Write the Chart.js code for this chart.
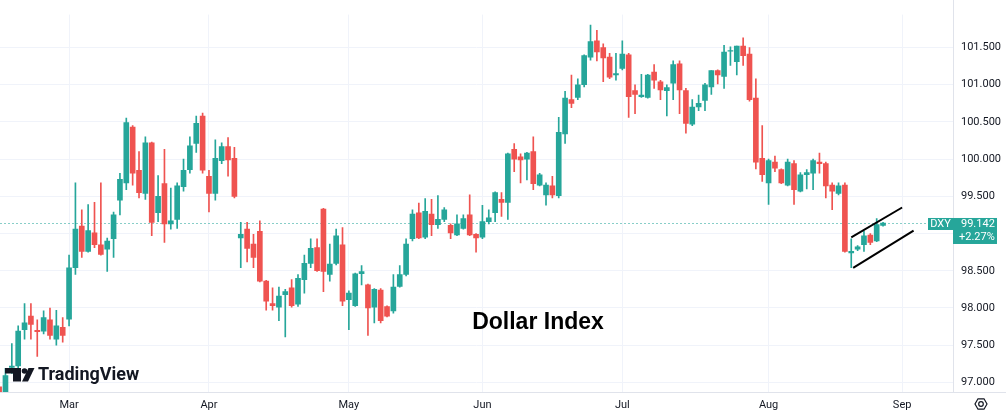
<!DOCTYPE html>
<html>
<head>
<meta charset="utf-8">
<script src="https://cdn.jsdelivr.net/npm/chart.js@4.4.1/dist/chart.umd.min.js"></script>
<style>
  html, body { margin: 0; padding: 0; background: #ffffff; }
  #wrap { width: 1006px; height: 415px; position: relative; }
</style>
</head>
<body>
<div id="wrap"><canvas id="dxyChart"></canvas></div>
<script>
// daily candles (bar index 0 = left edge)
const opens = [
  96.94, 96.87, 97.20, 97.22, 97.71, 97.89, 97.70, 97.69, 97.84, 97.58,
  97.74, 97.85, 98.54, 99.10, 98.76, 99.01, 98.85, 98.79, 98.93, 99.45,
  99.68, 100.43, 99.85, 99.54, 100.22, 99.28, 99.67, 99.13, 99.19, 99.63,
  99.86, 100.21, 100.58, 99.77, 99.54, 99.98, 100.17, 100.01, 98.94, 99.06,
  98.86, 99.03, 98.36, 98.06, 98.01, 98.18, 98.27, 98.05, 98.38, 98.60,
  98.81, 99.33, 98.45, 98.60, 98.85, 98.11, 98.03, 98.46, 98.31, 98.01,
  98.24, 98.02, 97.96, 98.29, 98.45, 98.93, 99.28, 98.95, 99.26, 99.12,
  99.19, 99.11, 98.98, 99.07, 99.25, 98.99, 98.95, 99.16, 99.28, 99.46,
  99.42, 100.13, 100.03, 100.00, 100.10, 99.65, 99.52, 99.64, 99.51, 100.34,
  100.80, 100.83, 101.00, 101.37, 101.59, 101.50, 101.37, 101.13, 101.22, 101.40,
  100.92, 100.84, 100.83, 101.17, 101.04, 100.92, 101.02, 101.28, 100.92, 100.47,
  100.70, 100.79, 100.97, 101.19, 101.11, 101.45, 101.31, 101.52, 101.41, 100.82,
  100.01, 99.68, 99.96, 99.86, 99.65, 99.94, 99.57, 99.79, 99.81, 99.96,
  99.94, 99.65, 99.54, 99.65, 98.74, 98.79, 98.85, 98.98, 98.90, 99.11
];
const highs = [
  96.97, 97.19, 97.52, 97.76, 98.06, 98.06, 97.84, 97.96, 98.00, 97.97,
  97.87, 98.71, 99.68, 99.32, 99.39, 99.42, 99.68, 98.94, 99.29, 99.81,
  100.55, 100.45, 100.10, 100.30, 100.23, 99.78, 100.13, 99.61, 99.68, 100.00,
  100.30, 100.58, 100.62, 99.85, 100.26, 100.22, 100.29, 100.16, 99.15, 99.15,
  98.99, 99.17, 98.37, 98.27, 98.28, 98.25, 98.38, 98.45, 98.71, 98.93,
  98.93, 99.34, 98.86, 99.06, 99.08, 98.23, 98.47, 98.57, 98.32, 98.26,
  98.26, 98.03, 98.45, 98.57, 98.93, 99.32, 99.41, 99.47, 99.46, 99.51,
  99.35, 99.13, 99.25, 99.25, 99.52, 99.00, 99.38, 99.32, 99.56, 99.55,
  100.08, 100.21, 100.07, 100.09, 100.30, 99.81, 99.68, 99.77, 100.56, 100.91,
  101.13, 101.08, 101.40, 101.80, 101.73, 101.55, 101.42, 101.42, 101.59, 101.42,
  101.00, 101.14, 101.14, 101.27, 101.06, 101.00, 101.32, 101.32, 100.95, 100.80,
  100.86, 101.02, 101.19, 101.20, 101.53, 101.51, 101.52, 101.63, 101.50, 101.08,
  100.45, 100.00, 100.04, 99.87, 100.00, 99.98, 99.82, 99.86, 100.00, 100.08,
  99.96, 99.68, 99.68, 99.68, 98.93, 98.84, 99.03, 99.00, 99.20, 99.15
];
const lows = [
  96.85, 96.85, 97.12, 97.18, 97.58, 97.58, 97.35, 97.65, 97.58, 97.50,
  97.54, 97.76, 98.45, 98.68, 98.75, 98.81, 98.71, 98.49, 98.68, 99.25,
  99.59, 99.65, 99.48, 99.46, 98.97, 99.16, 98.88, 99.06, 99.07, 99.57,
  99.81, 100.09, 99.81, 99.29, 99.45, 99.94, 99.77, 99.48, 98.54, 98.62,
  98.54, 98.35, 97.97, 97.97, 97.83, 97.61, 98.01, 98.02, 98.20, 98.54,
  98.49, 98.22, 98.36, 98.58, 98.03, 97.71, 98.02, 98.31, 97.63, 97.80,
  97.80, 97.88, 97.93, 98.28, 98.43, 98.90, 98.93, 98.93, 98.97, 99.07,
  99.16, 98.93, 98.97, 99.06, 98.97, 98.75, 98.93, 99.13, 99.16, 99.23,
  99.19, 99.83, 99.68, 99.72, 99.59, 99.64, 99.38, 99.48, 99.48, 100.21,
  100.69, 100.80, 100.97, 101.33, 101.32, 101.04, 101.08, 101.06, 101.20, 100.56,
  100.61, 100.83, 100.82, 100.95, 100.80, 100.58, 100.80, 100.61, 100.35, 100.45,
  100.65, 100.65, 100.87, 101.01, 100.95, 101.26, 101.13, 101.26, 100.78, 99.87,
  99.70, 99.39, 99.83, 99.67, 99.64, 99.39, 99.56, 99.60, 99.59, 99.81,
  99.48, 99.32, 99.52, 98.75, 98.54, 98.77, 98.76, 98.85, 98.89, 99.10
];
const closes = [
  96.87, 97.09, 97.22, 97.69, 97.80, 97.78, 97.68, 97.87, 97.63, 97.76,
  97.63, 98.54, 99.06, 98.76, 99.04, 98.85, 98.72, 98.90, 99.25, 99.73,
  100.49, 99.81, 99.55, 100.22, 99.15, 99.50, 99.13, 99.17, 99.64, 99.85,
  100.18, 100.48, 99.85, 99.54, 100.01, 100.17, 99.99, 99.50, 98.99, 98.80,
  98.68, 98.36, 98.09, 98.03, 98.16, 98.22, 98.03, 98.40, 98.60, 98.80,
  98.50, 98.49, 98.59, 98.97, 98.09, 98.20, 98.46, 98.49, 98.00, 98.25,
  97.83, 97.89, 98.28, 98.45, 98.86, 99.26, 98.94, 99.30, 99.12, 99.19,
  99.32, 99.01, 99.13, 99.20, 98.98, 98.94, 99.16, 99.21, 99.55, 99.42,
  100.07, 100.00, 99.99, 100.08, 99.67, 99.79, 99.65, 99.52, 100.36, 100.82,
  100.75, 101.00, 101.39, 101.58, 101.44, 101.36, 101.10, 101.15, 101.41, 100.84,
  100.87, 100.86, 101.13, 101.06, 100.93, 100.96, 101.27, 100.93, 100.48, 100.70,
  100.75, 101.00, 101.19, 101.13, 101.44, 101.46, 101.52, 101.39, 100.80, 99.96,
  99.79, 99.98, 99.88, 99.68, 99.96, 99.59, 99.79, 99.82, 99.98, 99.94,
  99.64, 99.57, 99.64, 98.76, 98.76, 98.82, 98.97, 98.88, 99.12, 99.142
];

// time axis: bar index of the first bar of each month
const monthStarts = [11, 33, 55, 76, 98, 121, 142];
const monthNames = ['Mar', 'Apr', 'May', 'Jun', 'Jul', 'Aug', 'Sep'];

// price axis
const priceTicks = [97, 97.5, 98, 98.5, 99, 99.5, 100, 100.5, 101, 101.5];
const priceMin = 96.871;
const priceMax = 101.942;

// last price badge
const symbol = 'DXY';
const lastPrice = 99.142;
const lastChange = '+2.27%';

// hand-drawn channel (bar index, price)
const channelUpper = [{ x: 134.0, y: 98.95 }, { x: 142.0, y: 99.35 }];
const channelLower = [{ x: 134.3, y: 98.54 }, { x: 143.8, y: 99.04 }];

const UP = '#26a69a';
const DOWN = '#ef5350';
const TEXT = '#131722';
const GRID = '#f0f3fa';
const BORDER = '#e0e3eb';

const idx = opens.map((_, i) => i);
const candleColors = idx.map(i => closes[i] >= opens[i] ? UP : DOWN);
const wickData = idx.map(i => ({ x: i, y: [lows[i], highs[i]] }));
const bodyData = idx.map(i => ({ x: i, y: [opens[i], closes[i]] }));

const overlay = {
  id: 'overlay',
  beforeDatasetsDraw(chart) {
    const { ctx, chartArea, scales } = chart;
    const py = Math.round(scales.y.getPixelForValue(lastPrice)) + 0.5;
    ctx.save();
    ctx.strokeStyle = UP;
    ctx.globalAlpha = 0.55;
    ctx.lineWidth = 1;
    ctx.setLineDash([2, 2]);
    ctx.beginPath();
    ctx.moveTo(chartArea.left, py);
    ctx.lineTo(chartArea.right, py);
    ctx.stroke();
    ctx.restore();
  },
  afterDraw(chart) {
    const { ctx, chartArea, scales, width } = chart;
    ctx.save();

    // pane separators
    ctx.strokeStyle = BORDER;
    ctx.lineWidth = 1;
    ctx.beginPath();
    ctx.moveTo(0, chartArea.bottom + 0.5);
    ctx.lineTo(width, chartArea.bottom + 0.5);
    ctx.moveTo(chartArea.right + 0.5, 0);
    ctx.lineTo(chartArea.right + 0.5, chartArea.bottom);
    ctx.stroke();

    // last price badge
    const py = scales.y.getPixelForValue(lastPrice);
    ctx.fillStyle = UP;
    ctx.fillRect(chartArea.right - 25, py - 5, 25, 12);
    ctx.fillRect(chartArea.right, py - 5, 44, 26);
    ctx.fillStyle = '#ffffff';
    ctx.font = '11px Roboto';
    ctx.textBaseline = 'middle';
    ctx.textAlign = 'center';
    ctx.fillText(symbol, chartArea.right - 12.5, py + 1);
    ctx.textAlign = 'left';
    ctx.fillText(lastPrice.toFixed(3), chartArea.right + 8, py + 1);
    ctx.fillText(lastChange, chartArea.right + 6, py + 14);

    // caption
    ctx.fillStyle = '#000000';
    ctx.font = 'bold 23px "Liberation Sans", Arial, sans-serif';
    ctx.textAlign = 'center';
    ctx.fillText('Dollar Index', 538, 323);

    // TradingView mark
    ctx.fillStyle = TEXT;
    ctx.fillRect(5, 368, 16, 5.5);
    ctx.fillRect(13, 368, 8, 13.5);
    ctx.beginPath();
    ctx.arc(24.5, 371, 2.8, 0, Math.PI * 2);
    ctx.fill();
    ctx.beginPath();
    ctx.moveTo(28.5, 368);
    ctx.lineTo(34.5, 368);
    ctx.lineTo(28, 381.5);
    ctx.lineTo(22, 381.5);
    ctx.closePath();
    ctx.fill();
    ctx.font = 'bold 18px Roboto';
    ctx.textAlign = 'left';
    ctx.fillText('TradingView', 38, 375.5);

    // settings icon in the corner
    const gx = 981, gy = 404;
    ctx.strokeStyle = TEXT;
    ctx.lineWidth = 1.2;
    ctx.beginPath();
    for (let k = 0; k < 6; k++) {
      const a = Math.PI / 3 * k;
      const px = gx + 6 * Math.cos(a), pyy = gy + 6 * Math.sin(a);
      if (k === 0) ctx.moveTo(px, pyy); else ctx.lineTo(px, pyy);
    }
    ctx.closePath();
    ctx.stroke();
    ctx.beginPath();
    ctx.arc(gx, gy, 2.3, 0, Math.PI * 2);
    ctx.stroke();

    ctx.restore();
  }
};

new Chart(document.getElementById('dxyChart'), {
  type: 'bar',
  data: {
    datasets: [
      {
        label: 'body',
        data: bodyData,
        backgroundColor: candleColors,
        barThickness: 5,
        grouped: false,
        borderSkipped: false,
        order: 1
      },
      {
        label: 'wick',
        data: wickData,
        backgroundColor: candleColors,
        barThickness: 1,
        grouped: false,
        borderSkipped: false,
        order: 2
      },
      {
        type: 'line',
        label: 'upper',
        data: channelUpper,
        borderColor: '#000000',
        borderWidth: 2,
        pointRadius: 0,
        order: 0
      },
      {
        type: 'line',
        label: 'lower',
        data: channelLower,
        borderColor: '#000000',
        borderWidth: 2,
        pointRadius: 0,
        order: 0
      }
    ]
  },
  options: {
    responsive: true,
    maintainAspectRatio: false,
    animation: false,
    layout: { padding: 0 },
    plugins: {
      legend: { display: false },
      tooltip: { enabled: false }
    },
    scales: {
      x: {
        type: 'linear',
        min: 0.14,
        max: 150,
        offset: false,
        afterBuildTicks: axis => { axis.ticks = monthStarts.map(v => ({ value: v })); },
        afterFit: axis => { axis.height = 23; },
        grid: { color: GRID, drawTicks: false, offset: false },
        border: { display: false },
        ticks: {
          autoSkip: false,
          maxRotation: 0,
          padding: 7,
          color: TEXT,
          font: { family: 'Roboto', size: 11 },
          callback: v => monthNames[monthStarts.indexOf(v)]
        }
      },
      y: {
        type: 'linear',
        position: 'right',
        min: priceMin,
        max: priceMax,
        afterBuildTicks: axis => { axis.ticks = priceTicks.map(v => ({ value: v })); },
        afterFit: axis => { axis.width = 53; },
        grid: { color: GRID, drawTicks: false },
        border: { display: false },
        ticks: {
          padding: 8,
          color: TEXT,
          font: { family: 'Roboto', size: 11 },
          callback: v => Number(v).toFixed(3)
        }
      }
    }
  },
  plugins: [overlay]
});
</script>
</body>
</html>
